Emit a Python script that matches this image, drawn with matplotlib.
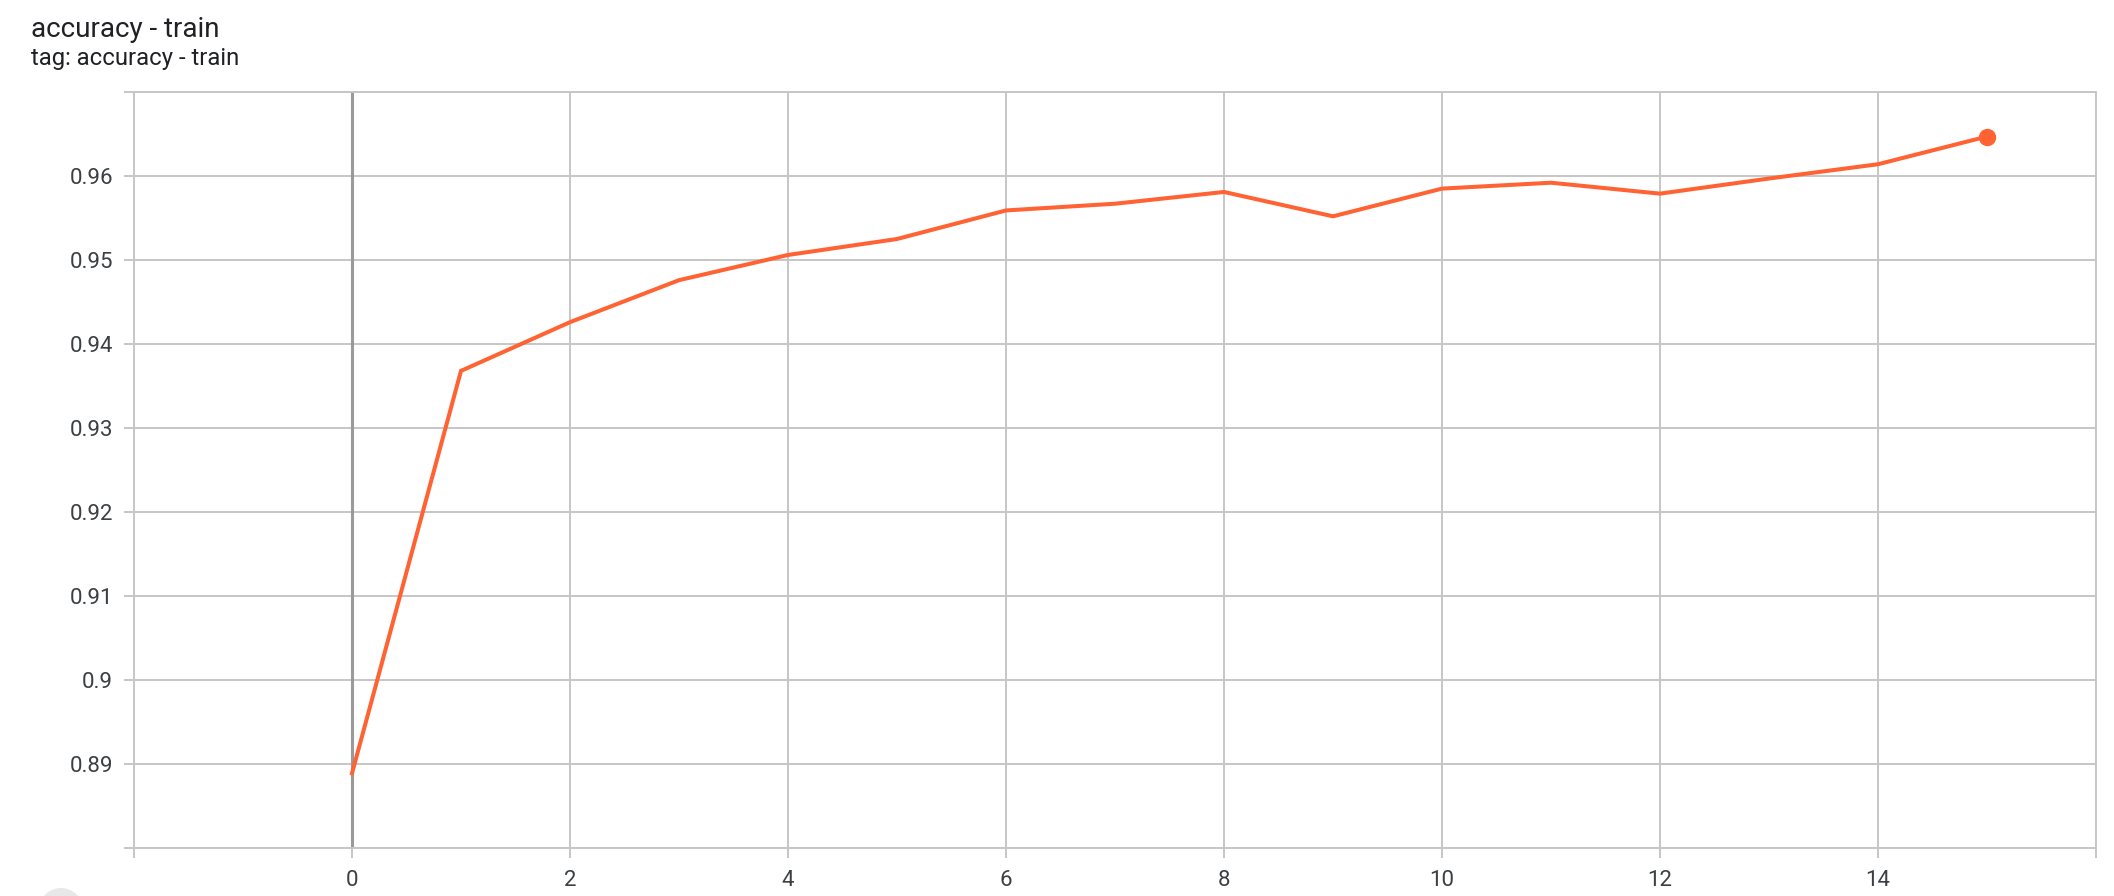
import matplotlib
matplotlib.use("Agg")
import matplotlib.pyplot as plt
from matplotlib.patches import Ellipse

# ── Data ──────────────────────────────────────────────────────────────────────
steps = [0, 1, 2, 3, 4, 5, 6, 7, 8, 9, 10, 11, 12, 13, 14, 15]
accuracy = [0.8889, 0.9368, 0.9426, 0.9476, 0.9506, 0.9525, 0.9559, 0.9567,
            0.9581, 0.9552, 0.9585, 0.9592, 0.9579, 0.9597, 0.9614, 0.9647]

x_ticks = [-2, 0, 2, 4, 6, 8, 10, 12, 14, 16]
y_ticks = [0.88, 0.89, 0.90, 0.91, 0.92, 0.93, 0.94, 0.95, 0.96, 0.97]
x_labels = ["", "0", "2", "4", "6", "8", "10", "12", "14", ""]
y_labels = ["", "0.89", "0.9", "0.91", "0.92", "0.93", "0.94", "0.95", "0.96", ""]

TITLE = "accuracy - train"
SUBTITLE = "tag: accuracy - train"

# ── Style ─────────────────────────────────────────────────────────────────────
W, H = 2114, 896
LINE_COLOR = "#ff6333"
GRID_COLOR = "#c6c6c6"
TEXT_COLOR = "#3c4043"
plt.rcParams["font.family"] = ["Roboto", "DejaVu Sans"]

fig = plt.figure(figsize=(W / 100, H / 100), dpi=100)
ax = fig.add_axes([134 / W, (H - 848) / H, (2096 - 134) / W, (848 - 92) / H])

ax.plot(steps, accuracy, color=LINE_COLOR, lw=2.9, solid_joinstyle="miter", zorder=3)
ax.plot(steps[-1], accuracy[-1], "o", color=LINE_COLOR, ms=11.5, zorder=4)
ax.axvline(0, color="#9a9a9a", lw=2.2, zorder=2)

ax.set_xlim(x_ticks[0], x_ticks[-1])
ax.set_ylim(y_ticks[0], y_ticks[-1])
ax.set_xticks(x_ticks)
ax.set_yticks(y_ticks)
ax.set_xticklabels(x_labels)
ax.set_yticklabels(y_labels)
ax.grid(True, color=GRID_COLOR, lw=1.4, zorder=1)
ax.set_axisbelow(True)

for sp in ax.spines.values():
    sp.set_color(GRID_COLOR)
    sp.set_linewidth(1.4)

ax.tick_params(axis="both", length=7, width=1.4, color=GRID_COLOR,
               labelsize=16, labelcolor=TEXT_COLOR)
ax.tick_params(axis="y", pad=8)
ax.tick_params(axis="x", pad=9)

fig.text(31 / W, 1 - 37 / H, TITLE, fontsize=20, color="#202124", va="baseline")
fig.text(31 / W, 1 - 65 / H, SUBTITLE, fontsize=17.2, color="#202124", va="baseline")

# faint round button peeking in at the bottom-left corner
fig.patches.append(Ellipse((61 / W, -14 / H), 44 / W, 44 / H, transform=fig.transFigure,
                           facecolor="#e8e8e8", edgecolor="none"))

fig.savefig("out.png", dpi=100)
